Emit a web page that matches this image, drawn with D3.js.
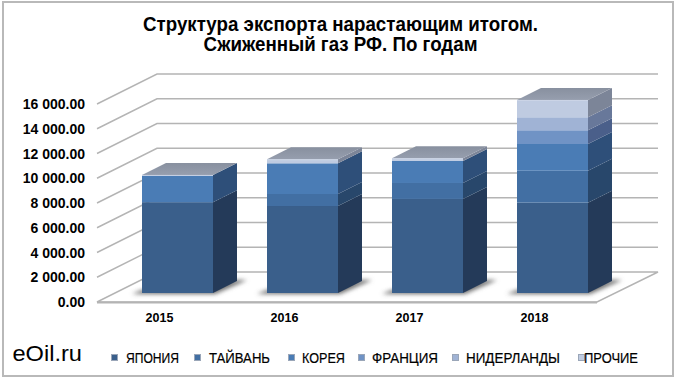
<!DOCTYPE html>
<html><head><meta charset="utf-8">
<script src="https://cdn.jsdelivr.net/npm/d3@7"></script>
<style>html,body{margin:0;padding:0;background:#fff}svg{display:block}text{font-family:"Liberation Sans",Arial,sans-serif;fill:#000}</style>
</head><body><svg id="c" width="680" height="384"></svg>
<script>
const titleLines=["Структура экспорта нарастающим итогом.","Сжиженный газ РФ. По годам"];
const titleWidths=[395,274];
const years=["2015","2016","2017","2018"];
const seriesNames=["ЯПОНИЯ","ТАЙВАНЬ","КОРЕЯ","ФРАНЦИЯ","НИДЕРЛАНДЫ","ПРОЧИЕ"];
const japan=[7340,7030,7600,7300];
const taiwan=[0,970,1290,2580];
const korea=[2200,2480,1780,2160];
const france=[0,0,0,1110];
const netherlands=[0,0,0,1050];
const other=[0,320,210,1400];
const yTicks=[0,2000,4000,6000,8000,10000,12000,14000,16000];
const frontColors=["#3a5f8b","#426fa3","#4a7cb5","#7093c5","#a0b3d5","#bfcbe1"];
const sideColors=["#243a59","#28476b","#2e4f79","#4a5f8a","#68789a","#7c8598"];
const legendX=[126,209,302,372,466,584];
const legendW=[53,61,43,66,94,54];
const markX=[111,194,288,358,452,578];

const svg=d3.select("#c");
const defs=svg.append("defs");
defs.append("filter").attr("id","blur").attr("x","-30%").attr("y","-80%").attr("width","160%").attr("height","260%")
  .append("feGaussianBlur").attr("stdDeviation",2);
const lg=defs.append("linearGradient").attr("id","topG").attr("x1",0).attr("y1",1).attr("x2",0).attr("y2",0);
lg.append("stop").attr("offset",0).attr("stop-color","#969eae");
lg.append("stop").attr("offset",1).attr("stop-color","#88909f");

svg.append("rect").attr("x",3).attr("y",2).attr("width",670).attr("height",374)
  .attr("fill","#fff").attr("stroke","#b9b9b9").attr("stroke-width",2);

const wallDx=60,wallDy=-30,barDx=18,barDy=-9,depthDx=24,depthDy=-12;
const x=d3.scaleBand().domain(years).range([97,597]).paddingInner(0.432).paddingOuter(0.216);
const y=d3.scaleLinear().domain([0,16000]).range([302,104]);

svg.append("g").attr("fill","none").attr("stroke","#b4b4b4").attr("stroke-width",1.4)
 .selectAll("path").data(yTicks).join("path")
 .attr("d",t=>{const a=y(t);return t===0
   ?`M97,${a}L${97+wallDx},${a+wallDy}L${597+wallDx+1},${a+wallDy}L597,${a}Z`
   :`M97,${a}L${97+wallDx},${a+wallDy}L${597+wallDx+1},${a+wallDy}`;});
svg.append("line").attr("x1",97).attr("x2",597).attr("y1",302.5).attr("y2",302.5).attr("stroke","#b4b4b4").attr("stroke-width",2);

const table=years.map((yr,i)=>({yr,[seriesNames[0]]:japan[i],[seriesNames[1]]:taiwan[i],[seriesNames[2]]:korea[i],[seriesNames[3]]:france[i],[seriesNames[4]]:netherlands[i],[seriesNames[5]]:other[i]}));
const stacked=d3.stack().keys(seriesNames)(table);
const barY=v=>y(v)+barDy;
const bw=x.bandwidth();

// floor shadows
svg.append("g").selectAll("path").data(years).join("path")
 .attr("filter","url(#blur)").attr("fill","#6e6e6e")
 .attr("d",yr=>{const l=x(yr)+barDx,r=l+bw,b=barY(0);
   return `M${l-10},${b+1}L${r+2},${b+1}L${r+depthDx+10},${b+depthDy-1}L${r+depthDx},${b+depthDy-1}L${r},${b-8}L${l},${b-3}Z`;});

const bars=svg.append("g");
years.forEach((yr,i)=>{
  const l=x(yr)+barDx,r=l+bw;
  stacked.forEach((s,k)=>{
    const [v0,v1]=s[i];
    if(v1<=v0) return;
    bars.append("path").attr("fill",sideColors[k])
      .attr("d",`M${r},${barY(v0)}L${r+depthDx},${barY(v0)+depthDy}L${r+depthDx},${barY(v1)+depthDy}L${r},${barY(v1)}Z`);
    bars.append("rect").attr("x",l).attr("width",bw).attr("y",barY(v1)).attr("height",barY(v0)-barY(v1)).attr("fill",frontColors[k]);
  });
  const tot=d3.sum(stacked,s=>s[i][1]-s[i][0]),t=barY(tot);
  bars.append("path").attr("fill","url(#topG)")
    .attr("d",`M${l},${t}L${l+depthDx},${t+depthDy}L${r+depthDx},${t+depthDy}L${r},${t}Z`);
  bars.append("line").attr("x1",l).attr("x2",r).attr("y1",t+.5).attr("y2",t+.5).attr("stroke","#ccd5e6").attr("stroke-width",1);
});

svg.append("g").selectAll("text").data(yTicks).join("text")
 .attr("x",85).attr("y",t=>y(t)+5).attr("text-anchor","end")
 .attr("font-size",14).attr("font-weight","bold")
 .text(t=>d3.format(",.2f")(t).replace(",","\u00a0"));
svg.append("g").selectAll("text").data(years).join("text")
 .attr("x",yr=>x(yr)+bw/2).attr("y",322).attr("text-anchor","middle")
 .attr("font-size",12.5).attr("font-weight","bold").text(d=>d);

svg.append("g").selectAll("text").data(titleLines).join("text")
 .attr("x",340.5).attr("y",(d,i)=>31+i*20).attr("text-anchor","middle")
 .attr("font-size",19.5).attr("font-weight","bold")
 .attr("textLength",(d,i)=>titleWidths[i]).attr("lengthAdjust","spacingAndGlyphs").text(d=>d);

svg.append("text").attr("x",12.5).attr("y",361).attr("font-size",21.5)
 .attr("textLength",69.5).attr("lengthAdjust","spacingAndGlyphs").text("eOil.ru");

const leg=svg.append("g");
seriesNames.forEach((n,i)=>{
  leg.append("rect").attr("x",markX[i]+.5).attr("y",354.5).attr("width",6).attr("height",6).attr("fill",frontColors[i]).attr("stroke","#9aa6b8").attr("stroke-width",1);
  leg.append("text").attr("x",legendX[i]).attr("y",363).attr("font-size",14)
    .attr("textLength",legendW[i]).attr("lengthAdjust","spacingAndGlyphs").attr("stroke","#000").attr("stroke-width",.2).text(n);
});
</script></body></html>
